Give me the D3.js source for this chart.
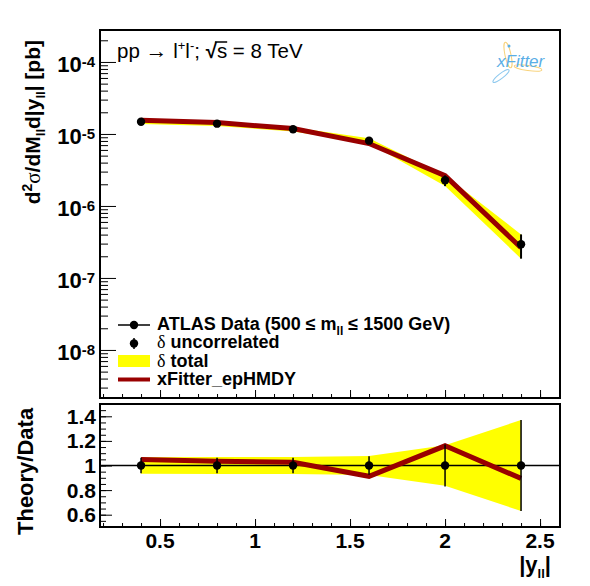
<!DOCTYPE html>
<html>
<head>
<meta charset="utf-8">
<script src="https://cdn.jsdelivr.net/npm/d3@7"></script>
<style>
  body { margin: 0; background: #fff; }
  svg { display: block; }
  text { font-family: "Liberation Sans", Arial, sans-serif; }
</style>
</head>
<body>
<div id="chart"></div>
<script>
// ATLAS high mass Drell-Yan (500 < m_ll < 1500 GeV) vs xFitter_epHMDY prediction
const yll = [0.4, 0.8, 1.2, 1.6, 2.0, 2.4];
const sigma = [1.48e-5, 1.39e-5, 1.16e-5, 8.07e-6, 2.27e-6, 2.94e-7];   // data, pb
const errUncor = [0.062, 0.062, 0.062, 0.075, 0.17, 0.37];             // relative
const errTotal = [0.068, 0.07, 0.07, 0.078, 0.165, 0.37];              // relative
const ratio = [1.048, 1.034, 1.026, 0.912, 1.16, 0.895];               // theory / data
const xTickLabels = [0.5, 1, 1.5, 2, 2.5];
const ratioTickLabels = [0.6, 0.8, 1, 1.2, 1.4];
const decades = [-8, -7, -6, -5, -4];

const width = 590, height = 586;
const left = 100, right = 560;
const top1 = 30, bot1 = 398, top2 = 404, bot2 = 527;
const red = "#990000", yellow = "#ffff00";

var points = yll.map(function(x, i) {
  return { x: x, v: sigma[i], u: errUncor[i], t: errTotal[i], r: ratio[i] };
});

var svg = d3.select("#chart").append("svg")
  .attr("width", width)
  .attr("height", height);

var x = d3.scaleLinear().domain([0.184, 2.605]).range([left, right]);
var yTop = d3.scaleLog().domain([2.15e-9, 2.78e-4]).range([bot1, top1]);
var yBot = d3.scaleLinear().domain([0.5, 1.5]).range([bot2, top2]);

// ---------- top panel ----------
var area1 = d3.area()
  .x(function(d) { return x(d.x); })
  .y0(function(d) { return yTop(d.v * (1 - d.t)); })
  .y1(function(d) { return yTop(d.v * (1 + d.t)); });
svg.append("path").datum(points).attr("d", area1).attr("fill", yellow);

var theoryLine = d3.line()
  .x(function(d) { return x(d.x); })
  .y(function(d) { return yTop(d.v * d.r); });
svg.append("path").datum(points).attr("d", theoryLine)
  .attr("fill", "none").attr("stroke", red).attr("stroke-width", 5);

svg.selectAll(".err1").data(points).enter().append("line")
  .attr("x1", function(d) { return x(d.x); })
  .attr("x2", function(d) { return x(d.x); })
  .attr("y1", function(d) { return yTop(d.v * (1 - d.u)); })
  .attr("y2", function(d) { return yTop(d.v * (1 + d.u)); })
  .attr("stroke", "black").attr("stroke-width", 2);

svg.selectAll(".pt1").data(points).enter().append("circle")
  .attr("cx", function(d) { return x(d.x); })
  .attr("cy", function(d) { return yTop(d.v); })
  .attr("r", 4.2).attr("fill", "black");

// ---------- bottom panel ----------
var area2 = d3.area()
  .x(function(d) { return x(d.x); })
  .y0(function(d) { return yBot(1 - d.t); })
  .y1(function(d) { return yBot(1 + d.t); });
svg.append("path").datum(points).attr("d", area2).attr("fill", yellow);

svg.append("line")
  .attr("x1", left).attr("x2", right)
  .attr("y1", yBot(1)).attr("y2", yBot(1))
  .attr("stroke", "black").attr("stroke-width", 1.5);

var ratioLine = d3.line()
  .x(function(d) { return x(d.x); })
  .y(function(d) { return yBot(d.r); });
svg.append("path").datum(points).attr("d", ratioLine)
  .attr("fill", "none").attr("stroke", red).attr("stroke-width", 5);

svg.selectAll(".err2").data(points).enter().append("line")
  .attr("x1", function(d) { return x(d.x); })
  .attr("x2", function(d) { return x(d.x); })
  .attr("y1", function(d) { return yBot(1 - d.u); })
  .attr("y2", function(d) { return yBot(1 + d.u); })
  .attr("stroke", "black").attr("stroke-width", 1.5);

svg.selectAll(".pt2").data(points).enter().append("circle")
  .attr("cx", function(d) { return x(d.x); })
  .attr("cy", yBot(1))
  .attr("r", 4.2).attr("fill", "black");

// ---------- axes (ticks point inward, like ROOT) ----------
function ticksOnly(axis, transform) {
  var g = svg.append("g").attr("transform", transform).call(axis);
  g.select(".domain").remove();
  g.selectAll(".tick line").attr("stroke", "black").attr("stroke-width", 1);
  return g;
}

var xMinor = d3.range(2, 27).map(function(i) { return i / 10; })
  .filter(function(v) { return v > 0.184 && v < 2.605; });

// top panel x
ticksOnly(d3.axisBottom(x).tickValues(xMinor).tickSize(-4).tickFormat(""), "translate(0," + bot1 + ")");
ticksOnly(d3.axisBottom(x).tickValues(xTickLabels).tickSize(-8).tickFormat(""), "translate(0," + bot1 + ")");
// bottom panel x
ticksOnly(d3.axisBottom(x).tickValues(xMinor).tickSize(-4).tickFormat(""), "translate(0," + bot2 + ")");
ticksOnly(d3.axisBottom(x).tickValues(xTickLabels).tickSize(-8).tickFormat(""), "translate(0," + bot2 + ")");

// top panel log y
var logMinor = [];
[-9, -8, -7, -6, -5, -4].forEach(function(e) {
  for (var k = 2; k <= 9; k++) {
    var v = k * Math.pow(10, e);
    if (v > 2.15e-9 && v < 2.78e-4) logMinor.push(v);
  }
});
var logMajor = decades.map(function(e) { return Math.pow(10, e); });
ticksOnly(d3.axisLeft(yTop).tickValues(logMinor).tickSize(-8).tickFormat(""), "translate(" + left + ",0)");
ticksOnly(d3.axisLeft(yTop).tickValues(logMajor).tickSize(-16).tickFormat(""), "translate(" + left + ",0)");

// bottom panel y
var ratioMinor = d3.range(11, 30).map(function(i) { return i * 0.05; });
ticksOnly(d3.axisLeft(yBot).tickValues(ratioMinor).tickSize(-6).tickFormat(""), "translate(" + left + ",0)");
ticksOnly(d3.axisLeft(yBot).tickValues(ratioTickLabels).tickSize(-12).tickFormat(""), "translate(" + left + ",0)");

// frames
[[top1, bot1], [top2, bot2]].forEach(function(p) {
  svg.append("rect")
    .attr("x", left).attr("y", p[0])
    .attr("width", right - left).attr("height", p[1] - p[0])
    .attr("fill", "none").attr("stroke", "black").attr("stroke-width", 2);
});

// ---------- tick labels ----------
decades.forEach(function(e) {
  var t = svg.append("text")
    .attr("x", 95).attr("y", yTop(Math.pow(10, e)) + 10)
    .attr("text-anchor", "end")
    .attr("font-size", 22).attr("font-weight", "bold");
  t.append("tspan").text("10");
  t.append("tspan").attr("font-size", 15).attr("dy", -5).text(String(e));
});

ratioTickLabels.forEach(function(v) {
  svg.append("text")
    .attr("x", 96).attr("y", yBot(v) + 7.5)
    .attr("text-anchor", "end")
    .attr("font-size", 21).attr("font-weight", "bold")
    .text(v);
});

xTickLabels.forEach(function(v) {
  svg.append("text")
    .attr("x", x(v)).attr("y", 548)
    .attr("text-anchor", "middle")
    .attr("font-size", 21).attr("font-weight", "bold")
    .text(v);
});

// ---------- axis titles ----------
var yt = svg.append("text")
  .attr("transform", "translate(40,40) rotate(-90)")
  .attr("text-anchor", "end")
  .attr("font-size", 21).attr("font-weight", "bold");
yt.append("tspan").text("d");
yt.append("tspan").attr("font-size", 14).attr("dy", -8).text("2");
yt.append("tspan").attr("dy", 8).attr("font-weight", "normal").attr("font-family", "Liberation Serif").text("σ");
yt.append("tspan").text("/dM");
yt.append("tspan").attr("font-size", 13).attr("dy", 5).text("ll");
yt.append("tspan").attr("dy", -5).text("d|y");
yt.append("tspan").attr("font-size", 13).attr("dy", 5).text("ll");
yt.append("tspan").attr("dy", -5).text("| [pb]");

svg.append("text")
  .attr("transform", "translate(33,535) rotate(-90)")
  .attr("text-anchor", "start")
  .attr("font-size", 22).attr("font-weight", "bold")
  .text("Theory/Data");

var xt = svg.append("text")
  .attr("x", 551).attr("y", 572)
  .attr("text-anchor", "end")
  .attr("font-size", 22).attr("font-weight", "bold");
xt.append("tspan").text("|y");
xt.append("tspan").attr("font-size", 13).attr("dy", 6).text("ll");
xt.append("tspan").attr("dy", -6).text("|");

// ---------- process label ----------
var title = svg.append("text")
  .attr("x", 117).attr("y", 58)
  .attr("font-size", 20.5);
title.append("tspan").text("pp ");
title.append("tspan").attr("font-size", 22).attr("font-family", "Liberation Serif").text("\u2192");
title.append("tspan").text(" l");
title.append("tspan").attr("font-size", 13).attr("dy", -8).text("+");
title.append("tspan").attr("dy", 8).text("l");
title.append("tspan").attr("font-size", 13).attr("dy", -8).text("-");
title.append("tspan").attr("dy", 8).text("; ");
title.append("tspan").attr("font-weight", "bold").text("\u221A");
title.append("tspan").text("s");
title.append("tspan").text(" = 8 TeV");
// overline of the square root
var sIdx = title.text().indexOf("\u221A");
var ext = title.node().getExtentOfChar(sIdx + 1);
var ext0 = title.node().getExtentOfChar(sIdx);
svg.append("line")
  .attr("x1", ext0.x + ext0.width - 2).attr("x2", ext.x + ext.width)
  .attr("y1", ext.y + 3).attr("y2", ext.y + 3)
  .attr("stroke", "black").attr("stroke-width", 1.5);

// ---------- legend ----------
var lx0 = 118, lx1 = 150, lmid = 134, ltext = 157;
var leg = svg.append("g");
leg.append("line").attr("x1", lx0).attr("x2", lx1).attr("y1", 325).attr("y2", 325)
  .attr("stroke", "black").attr("stroke-width", 1.5);
leg.append("circle").attr("cx", lmid).attr("cy", 325).attr("r", 4.2).attr("fill", "black");
leg.append("line").attr("x1", lmid).attr("x2", lmid).attr("y1", 338).attr("y2", 349)
  .attr("stroke", "black").attr("stroke-width", 1.5);
leg.append("circle").attr("cx", lmid).attr("cy", 343.5).attr("r", 4.2).attr("fill", "black");
leg.append("rect").attr("x", lx0).attr("y", 355).attr("width", lx1 - lx0).attr("height", 12)
  .attr("fill", yellow);
leg.append("line").attr("x1", lx0).attr("x2", lx1).attr("y1", 379.5).attr("y2", 379.5)
  .attr("stroke", red).attr("stroke-width", 4);

function legText(y) {
  return leg.append("text").attr("x", ltext).attr("y", y)
    .attr("font-size", 18).attr("font-weight", "bold");
}
var l1 = legText(330);
l1.append("tspan").text("ATLAS Data (500 \u2264 m");
l1.append("tspan").attr("font-size", 12).attr("dy", 5).text("ll");
l1.append("tspan").attr("dy", -5).text(" \u2264 1500 GeV)");
var l2 = legText(348);
l2.append("tspan").attr("font-weight", "normal").attr("font-family", "Liberation Serif").text("\u03B4");
l2.append("tspan").text(" uncorrelated");
var l3 = legText(366.5);
l3.append("tspan").attr("font-weight", "normal").attr("font-family", "Liberation Serif").text("\u03B4");
l3.append("tspan").text(" total");
legText(384.5).text("xFitter_epHMDY");

// ---------- xFitter logo ----------
var logo = svg.append("g").attr("fill", "none").attr("stroke-width", 1);
logo.append("ellipse").attr("cx", 508).attr("cy", 55).attr("rx", 3).attr("ry", 13)
  .attr("transform", "rotate(-12,508,55)").attr("stroke", "#f8d27a");
logo.append("ellipse").attr("cx", 528).attr("cy", 68).attr("rx", 14).attr("ry", 2.5)
  .attr("transform", "rotate(8,528,68)").attr("stroke", "#f8d27a");
logo.append("ellipse").attr("cx", 501).attr("cy", 76).attr("rx", 10).attr("ry", 2.5)
  .attr("transform", "rotate(-38,501,76)").attr("stroke", "#8cc8ee");
logo.append("circle").attr("cx", 509).attr("cy", 46).attr("r", 1.5).attr("fill", "#5aaee6").attr("stroke", "none");
svg.append("text")
  .attr("x", 497).attr("y", 67)
  .attr("font-size", 17).attr("font-style", "italic")
  .attr("font-family", "'Open Sans', 'DejaVu Sans', sans-serif")
  .attr("fill", "#5aaee6")
  .text("xFitter");
</script>
</body>
</html>
